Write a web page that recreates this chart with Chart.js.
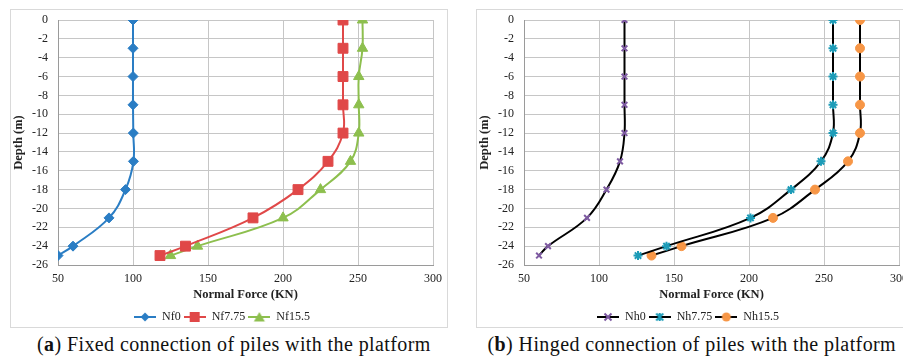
<!DOCTYPE html>
<html>
<head>
<meta charset="utf-8">
<script src="https://cdn.jsdelivr.net/npm/chart.js@4"></script>
<style>
  body { margin: 0; background: #fff; width: 903px; height: 356px; overflow: hidden; position: relative; }
  .box { position: absolute; border: 1px solid #d9d9d9; }
  .box canvas { display: block; }
  .cap { position: absolute; top: 333px; font-family: "Liberation Serif", serif; font-size: 20px; line-height: 22px; letter-spacing: 0.4px; color: #111; white-space: nowrap; }
</style>
</head>
<body>
<div class="box" style="left:10px; top:9px; width:436px; height:317px;"><canvas id="chartA" width="436" height="317"></canvas></div>
<div class="box" style="left:476px; top:9px; width:436px; height:317px;"><canvas id="chartB" width="436" height="317"></canvas></div>
<div class="cap" id="capA">(<b>a</b>) Fixed connection of piles with the platform</div>
<div class="cap" id="capB">(<b>b</b>) Hinged connection of piles with the platform</div>

<script>
// depth of each reading (m)
const depth = [0, -3, -6, -9, -12, -15, -18, -21, -24, -25];

// fixed connection
const nf0 = [100, 100, 100, 100, 100.2, 100.3, 95, 84, 60, 50];
const nf775 = [240, 240, 240, 240, 240, 230, 210, 180, 135, 118];
const nf155 = [253, 253, 250.5, 250.5, 250.5, 245, 225, 200, 143, 125];

// hinged connection
const nh0 = [117, 117, 117, 117, 117, 114, 105, 92, 66, 60];
const nh775 = [256, 256, 256, 256, 256, 248, 228, 201, 145, 126];
const nh155 = [274, 274, 274, 274, 274, 266, 244, 216, 155, 135];

const xTicks = [50, 100, 150, 200, 250, 300];
const yTicks = [0, -2, -4, -6, -8, -10, -12, -14, -16, -18, -20, -22, -24, -26];

const serif = '"Liberation Serif", "Times New Roman", serif';

function toPoints(xs) {
  return xs.map((x, i) => ({ x: x, y: depth[i] }));
}

// petite icone de légende : trait + marqueur
function legendIcon(lineColor, markColor, shape) {
  const c = document.createElement('canvas');
  c.width = 22; c.height = 12;
  const ctx = c.getContext('2d');
  ctx.strokeStyle = lineColor; ctx.lineWidth = 2;
  ctx.beginPath(); ctx.moveTo(0, 6); ctx.lineTo(22, 6); ctx.stroke();
  ctx.fillStyle = markColor; ctx.strokeStyle = markColor;
  const cx = 11, cy = 6;
  ctx.beginPath();
  if (shape === 'rectRot') {
    ctx.moveTo(cx, cy - 4.5); ctx.lineTo(cx + 4.5, cy); ctx.lineTo(cx, cy + 4.5); ctx.lineTo(cx - 4.5, cy); ctx.closePath(); ctx.fill();
  } else if (shape === 'rect') {
    ctx.rect(cx - 5, cy - 5, 10, 10); ctx.fill();
  } else if (shape === 'triangle') {
    ctx.moveTo(cx, cy - 5); ctx.lineTo(cx + 5.5, cy + 4.5); ctx.lineTo(cx - 5.5, cy + 4.5); ctx.closePath(); ctx.fill();
  } else if (shape === 'circle') {
    ctx.arc(cx, cy, 4.5, 0, Math.PI * 2); ctx.fill();
  } else if (shape === 'crossRot') {
    ctx.lineWidth = 2;
    ctx.moveTo(cx - 3.5, cy - 3.5); ctx.lineTo(cx + 3.5, cy + 3.5);
    ctx.moveTo(cx + 3.5, cy - 3.5); ctx.lineTo(cx - 3.5, cy + 3.5); ctx.stroke();
  } else if (shape === 'star') {
    ctx.lineWidth = 2;
    ctx.moveTo(cx - 3.5, cy - 3.5); ctx.lineTo(cx + 3.5, cy + 3.5);
    ctx.moveTo(cx + 3.5, cy - 3.5); ctx.lineTo(cx - 3.5, cy + 3.5);
    ctx.moveTo(cx, cy - 4); ctx.lineTo(cx, cy + 4); ctx.stroke();
  }
  return c;
}

function makeSeries(label, xs, lineColor, markColor, shape, radius) {
  return {
    label: label,
    data: toPoints(xs),
    showLine: true,
    tension: 0.4,
    borderColor: lineColor,
    borderWidth: 2,
    pointStyle: shape,
    pointRadius: radius,
    pointBackgroundColor: markColor,
    pointBorderColor: markColor,
    pointBorderWidth: (shape === 'crossRot' || shape === 'star') ? 2 : 1,
    _icon: legendIcon(lineColor, markColor, shape)
  };
}

function buildChart(id, datasets) {
  return new Chart(document.getElementById(id), {
    type: 'scatter',
    data: { datasets: datasets },
    options: {
      responsive: false,
      animation: false,
      layout: { padding: { top: 10, right: 14, left: 0, bottom: -6 } },
      scales: {
        x: {
          type: 'linear', min: 50, max: 300,
          afterBuildTicks: (s) => { s.ticks = xTicks.map(v => ({ value: v })); },
          afterFit: (s) => { s.height = 43; s.paddingLeft = 0; s.paddingRight = 0; },
          grid: { color: '#c6c6c6', drawTicks: false },
          border: { color: '#9a9a9a' },
          ticks: { font: { family: serif, size: 12 }, color: '#222', padding: 7 },
          title: { display: true, text: 'Normal Force (KN)', font: { family: serif, size: 12.5, weight: 'bold' }, color: '#222', padding: { top: 1, bottom: 6 } }
        },
        y: {
          type: 'linear', min: -26, max: 0,
          afterBuildTicks: (s) => { s.ticks = yTicks.map(v => ({ value: v })); },
          afterFit: (s) => { s.width = 47; s.paddingTop = 0; s.paddingBottom = 0; },
          grid: { color: '#c6c6c6', drawTicks: false },
          border: { color: '#9a9a9a' },
          ticks: { font: { family: serif, size: 12 }, color: '#222', padding: 10 },
          title: { display: true, text: 'Depth (m)', font: { family: serif, size: 12.5, weight: 'bold' }, color: '#222', padding: 0 }
        }
      },
      plugins: {
        tooltip: { enabled: false },
        legend: {
          position: 'bottom',
          labels: {
            usePointStyle: true,
            pointStyleWidth: 22,
            padding: 3,
            font: { family: serif, size: 12 },
            color: '#222',
            generateLabels: (chart) => chart.data.datasets.map((ds, i) => ({
              text: ds.label,
              pointStyle: ds._icon,
              datasetIndex: i,
              hidden: false,
              lineWidth: 0,
              fillStyle: 'rgba(0,0,0,0)',
              strokeStyle: 'rgba(0,0,0,0)',
              fontColor: '#222'
            }))
          }
        }
      }
    }
  });
}

function drawAll() {
  buildChart('chartA', [
    makeSeries('Nf0', nf0, '#2a7dc4', '#2a7dc4', 'rectRot', 5),
    makeSeries('Nf7.75', nf775, '#e04848', '#e04848', 'rect', 7),
    makeSeries('Nf15.5', nf155, '#8dbf4e', '#8dbf4e', 'triangle', 6)
  ]);

  buildChart('chartB', [
    makeSeries('Nh0', nh0, '#000', '#7e5aa2', 'crossRot', 4),
    makeSeries('Nh7.75', nh775, '#000', '#1d9cb8', 'star', 4.5),
    makeSeries('Nh15.5', nh155, '#000', '#f79646', 'circle', 4.5)
  ]);
}

// centrer les légendes sous chaque panneau
function placeCaption(id, center) {
  const el = document.getElementById(id);
  el.style.left = (center - el.offsetWidth / 2) + 'px';
}
placeCaption('capA', 234);
placeCaption('capB', 692);

// attendre la police avant de dessiner le canvas
Promise.all([
  document.fonts.load('12px "Liberation Serif"'),
  document.fonts.load('bold 12px "Liberation Serif"')
]).then(drawAll, drawAll);
</script>
</body>
</html>
